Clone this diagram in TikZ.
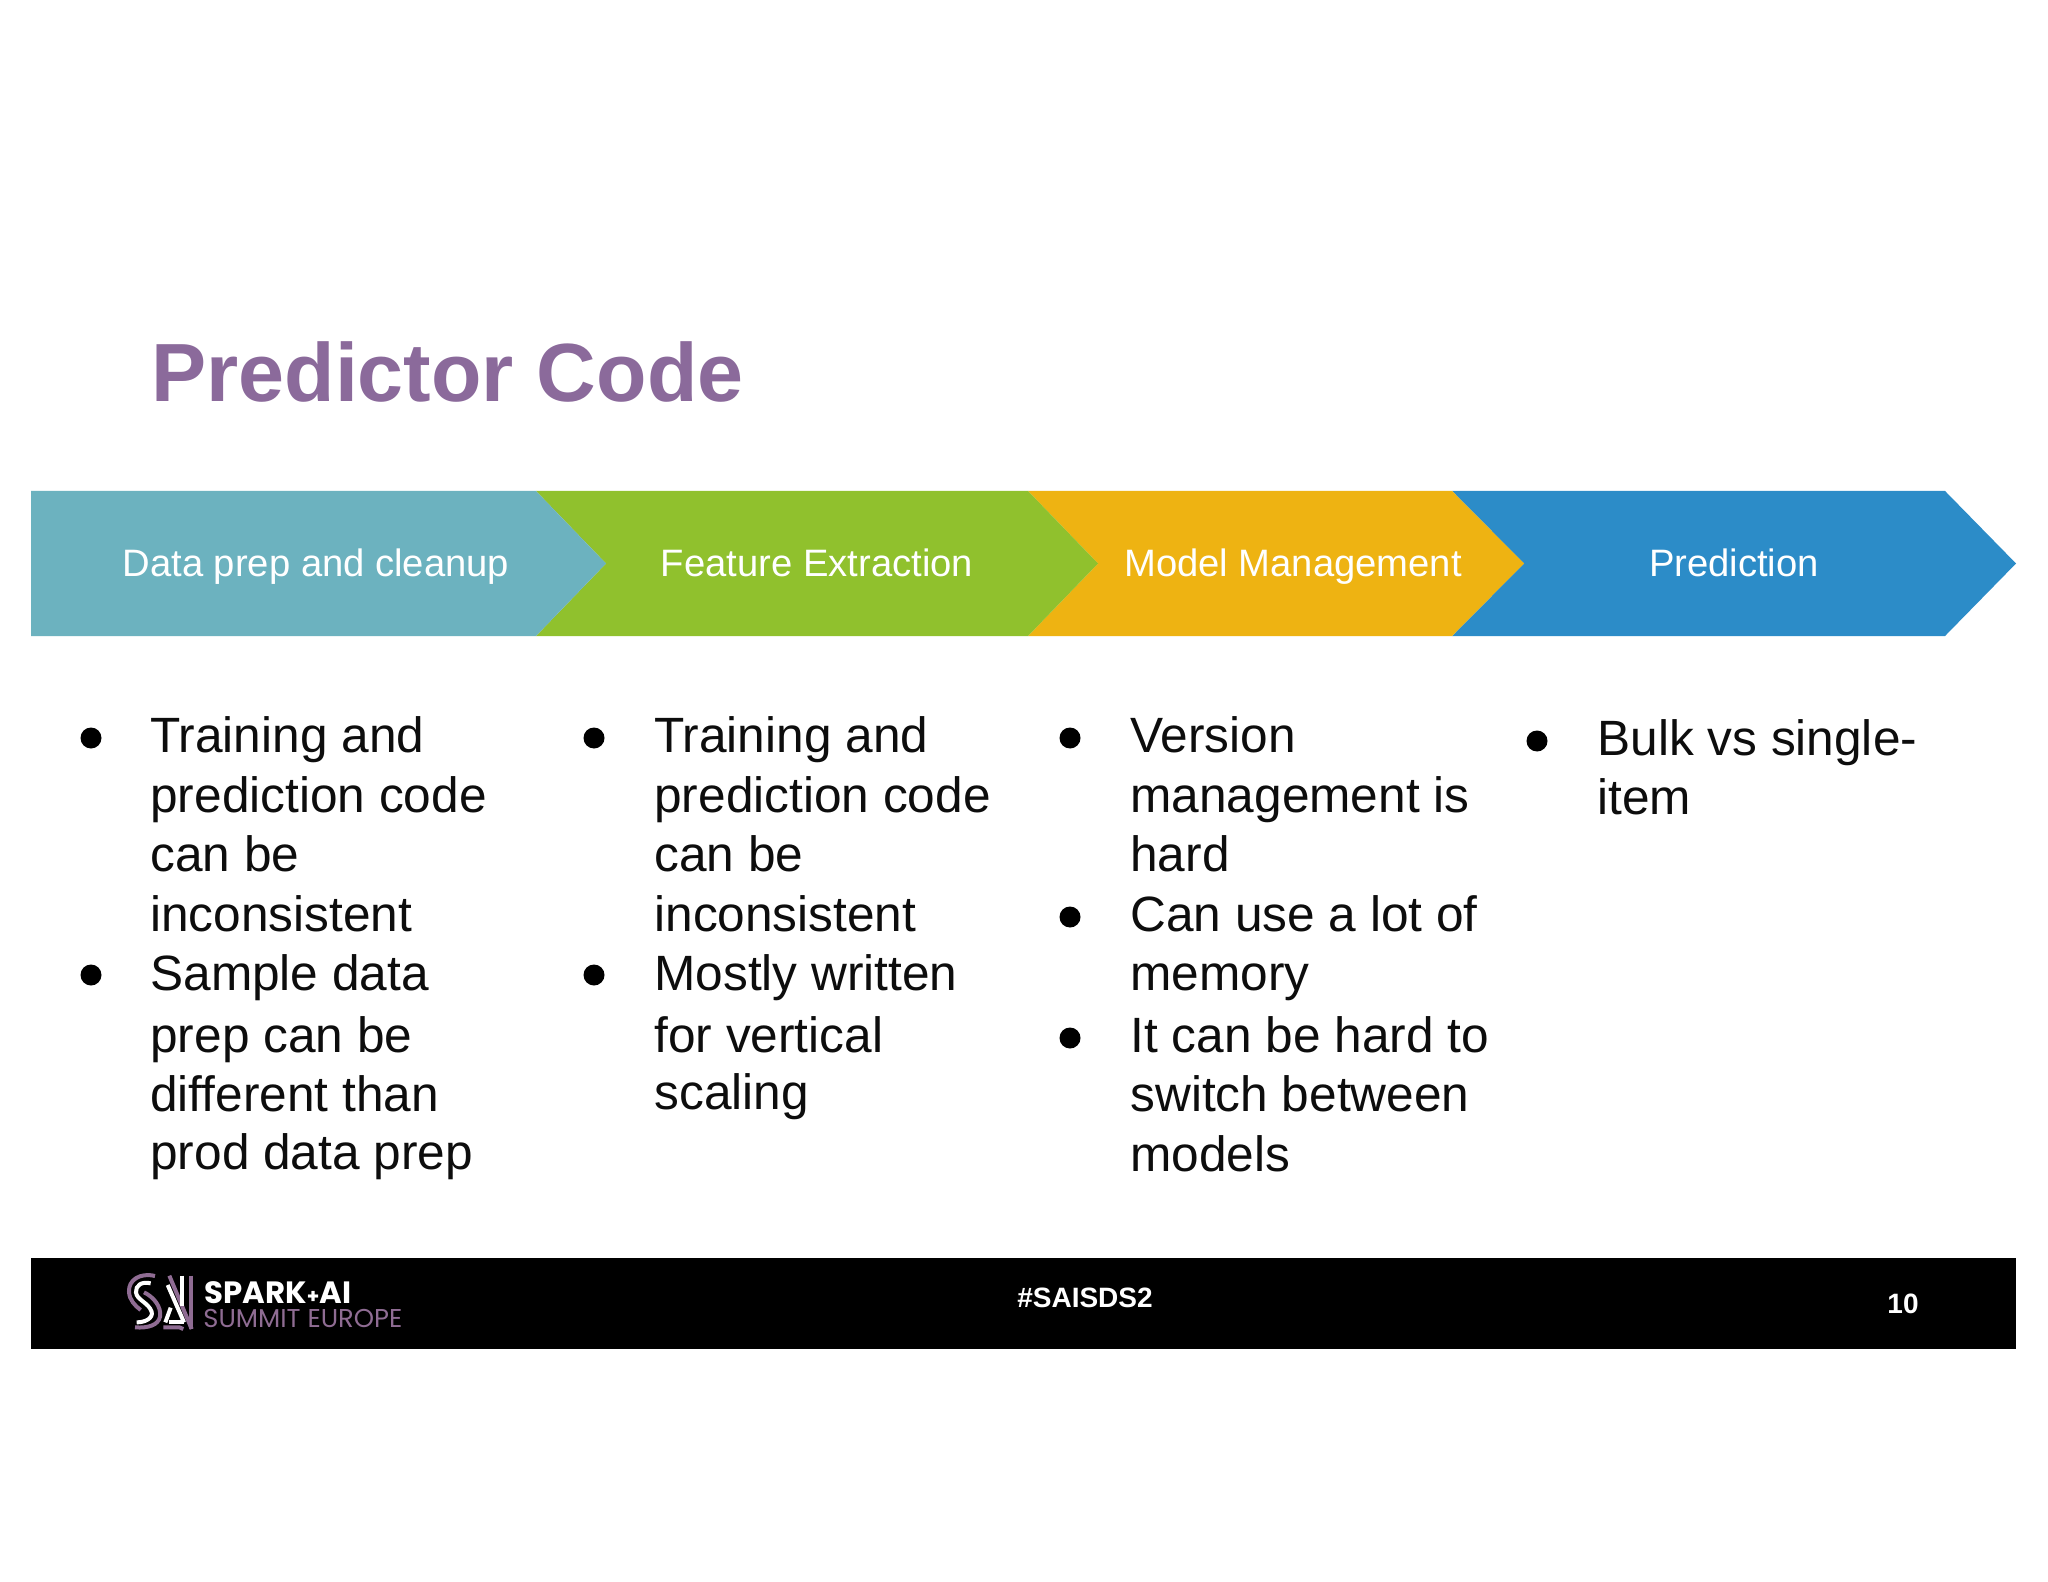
\documentclass[tikz,border=0pt]{standalone}
\usepackage{fontspec}
\setmainfont{Liberation Sans}
\newfontfamily\logofont{Poppins}
\definecolor{titlepurple}{HTML}{8B6A9B}
\definecolor{prepteal}{HTML}{6CB2BF}
\definecolor{featgreen}{HTML}{90C12D}
\definecolor{modelyellow}{HTML}{EEB312}
\definecolor{predblue}{HTML}{2C8CC8}
\definecolor{logopurple}{HTML}{8F6C93}
\tikzset{
  stagelabel/.style={anchor=base,text=white,font=\fontsize{19.1}{23}\selectfont,inner sep=0pt},
  bodyline/.style={anchor=base west,text=black!95,font=\fontsize{24.8}{29}\selectfont,inner sep=0pt},
  bulletdot/.style={circle,fill=black,inner sep=0pt,minimum size=10.5pt},
  footerbold/.style={text=white,font=\bfseries\fontsize{14}{17}\selectfont,inner sep=0pt},
  logopen/.style={logopurple,line width=2pt},
  logowhite/.style={white,line width=2pt},
}
\begin{document}
\begin{tikzpicture}[x=0.5pt,y=-0.5pt]
  \useasboundingbox (0,0) rectangle (2048,1582);
  \fill[white] (0,0) rectangle (2048,1582);

  % Title
  \node[anchor=base west,inner sep=0pt,text=titlepurple,font=\bfseries\fontsize{41.3}{48}\selectfont] (title) at (151,402) {Predictor Code};

  % Chevrons, last one first
  \fill[predblue] (1452,491) -- (1945,491) -- (2016,563.5) -- (1945,636) -- (1452,636) -- (1524,563.5) -- cycle;
  \fill[modelyellow] (1028,491) -- (1452,491) -- (1524,563.5) -- (1452,636) -- (1028,636) -- (1098,563.5) -- cycle;
  \fill[featgreen] (536,491) -- (1028,491) -- (1098,563.5) -- (1028,636) -- (536,636) -- (606,563.5) -- cycle;
  \fill[prepteal] (31,491) -- (536,491) -- (606,563.5) -- (536,636) -- (31,636) -- cycle;
  \node[stagelabel] (prep) at (316,576) {Data prep and cleanup};
  \node[stagelabel] (feat) at (817,576) {Feature Extraction};
  \node[stagelabel] (model) at (1293,576) {Model Management};
  \node[stagelabel] (pred) at (1734,576) {Prediction};

  % Column 1
  \node[bulletdot] (dota) at (91,738) {};
  \node[bulletdot] (dotb) at (91,975) {};
  \foreach \n/\y/\t in {1/752/Training and,2/812/prediction code,3/871/can be,4/931/inconsistent,5/990/Sample data,6/1052/prep can be,7/1111/different than,8/1169/prod data prep}
    \node[bodyline] (cola\n) at (150,\y) {\t};

  % Column 2
  \node[bulletdot] (dotc) at (594,738) {};
  \node[bulletdot] (dotd) at (594,975) {};
  \foreach \n/\y/\t in {1/752/Training and,2/812/prediction code,3/871/can be,4/931/inconsistent,5/990/Mostly written,6/1052/for vertical,7/1109/scaling}
    \node[bodyline] (colb\n) at (654,\y) {\t};

  % Column 3
  \node[bulletdot] (dote) at (1070,738) {};
  \node[bulletdot] (dotf) at (1070,917) {};
  \node[bulletdot] (dotg) at (1070,1038) {};
  \foreach \n/\y/\t in {1/752/Version,2/812/management is,3/871/hard,4/931/Can use a lot of,5/990/memory,6/1052/It can be hard to,7/1111/switch between,8/1171/models}
    \node[bodyline] (colc\n) at (1130,\y) {\t};

  % Column 4
  \node[bulletdot] (doth) at (1537,741) {};
  \foreach \n/\y/\t in {1/755/Bulk vs single-,2/814/item}
    \node[bodyline] (cold\n) at (1597,\y) {\t};

  % Footer
  \fill[black] (31,1258) rectangle (2016,1349);
  \begin{scope}[shift={(120,1265)},x=0.1667pt,y=-0.1667pt]
    \draw[logopen] (105,33) .. controls (60,22) and (25,45) .. (27,80) .. controls (28,105) and (45,122) .. (62,135);
    \draw[logowhite] (92,55) .. controls (65,48) and (46,62) .. (48,82) .. controls (50,105) and (85,112) .. (95,140) .. controls (100,160) and (75,172) .. (50,172);
    \draw[logopen] (72,82) .. controls (100,95) and (125,125) .. (120,155) .. controls (115,180) and (85,190) .. (45,187);
    \draw[logopen] (148,32) -- (215,192);
    \draw[logopen] (212,32) -- (212,192);
    \draw[logowhite] (187,32) -- (187,122);
    \draw[logowhite] (143,60) -- (192,172);
    \draw[logowhite] (148,172) -- (192,172);
    \draw[logowhite] (136,172) -- (152,128);
    \draw[logopen] (130,187) -- (178,187) -- (190,192);
  \end{scope}
  \node[anchor=base west,inner sep=0pt,text=white,font=\logofont\bfseries\fontsize{15.4}{16}\selectfont] (spark) at (204,1303) {SPARK{\fontsize{10}{12}\selectfont+}AI};
  \node[anchor=base west,inner sep=0pt,text=logopurple,font=\logofont\fontsize{12.9}{14}\selectfont] (summit) at (203,1327) {SUMMIT EUROPE};
  \node[footerbold] (tag) at (1085,1298) {\#SAISDS2};
  \node[footerbold] (page) at (1903,1304) {10};
\end{tikzpicture}
\end{document}
